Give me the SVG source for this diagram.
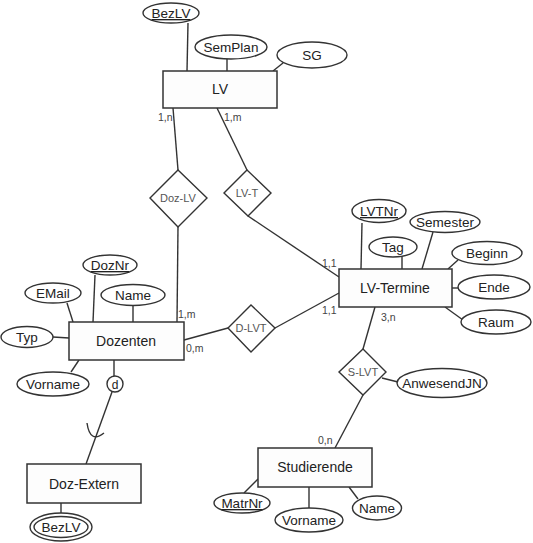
<svg xmlns="http://www.w3.org/2000/svg" width="533" height="543" viewBox="0 0 533 543">
<style>
.e{fill:#fdfdfd;stroke:#333;stroke-width:1.5}
.a{fill:#fff;stroke:#333;stroke-width:1.4}
.r{fill:#fff;stroke:#333;stroke-width:1.4}
.l{stroke:#333;stroke-width:1.4;fill:none}
text{font-family:"Liberation Sans",Arial,sans-serif;fill:#222;text-anchor:middle}
.t{font-size:14px}
.at{font-size:13.5px}
.rt{font-size:11px;fill:#555}
.c{font-size:10.5px;fill:#444;text-anchor:start}
.u{text-decoration:underline}
</style>
<g id="connectors">
<line class="l" x1="188" y1="23" x2="187" y2="71"/>
<line class="l" x1="227" y1="59" x2="227" y2="71"/>
<line class="l" x1="273" y1="71" x2="283" y2="63"/>
<line class="l" x1="173" y1="108" x2="178" y2="170"/>
<line class="l" x1="217" y1="108" x2="247" y2="170"/>
<line class="l" x1="178" y1="227" x2="177" y2="322"/>
<line class="l" x1="248" y1="216" x2="339" y2="277"/>
<line class="l" x1="184" y1="340" x2="228" y2="328"/>
<line class="l" x1="275" y1="328" x2="339" y2="293"/>
<line class="l" x1="95" y1="275" x2="93" y2="322"/>
<line class="l" x1="67" y1="303" x2="73" y2="322"/>
<line class="l" x1="133" y1="305" x2="133" y2="322"/>
<line class="l" x1="53" y1="337" x2="69" y2="338"/>
<line class="l" x1="79" y1="360" x2="71" y2="372"/>
<line class="l" x1="114" y1="360" x2="114" y2="376"/>
<line class="l" x1="112" y1="392" x2="86" y2="464"/>
<path class="l" d="M87,423 Q90,444 104,433"/>
<line class="l" x1="61" y1="503" x2="61" y2="513"/>
<line class="l" x1="362" y1="223" x2="361" y2="269"/>
<line class="l" x1="402" y1="257" x2="402" y2="269"/>
<line class="l" x1="433" y1="232" x2="422" y2="269"/>
<line class="l" x1="448" y1="269" x2="458" y2="260"/>
<line class="l" x1="452" y1="288" x2="458" y2="288"/>
<line class="l" x1="445" y1="307" x2="463" y2="320"/>
<line class="l" x1="375" y1="307" x2="363" y2="349"/>
<line class="l" x1="382" y1="378" x2="398" y2="382"/>
<line class="l" x1="363" y1="395" x2="335" y2="448"/>
<line class="l" x1="258" y1="479" x2="244" y2="493"/>
<line class="l" x1="309" y1="487" x2="309" y2="508"/>
<line class="l" x1="349" y1="487" x2="358" y2="499"/>
<text class="c" x="158" y="121">1,n</text>
<text class="c" x="224" y="121">1,m</text>
<text class="c" x="178" y="318">1,m</text>
<text class="c" x="186" y="352">0,m</text>
<text class="c" x="322" y="267">1,1</text>
<text class="c" x="322" y="314">1,1</text>
<text class="c" x="381" y="321">3,n</text>
<text class="c" x="318" y="444">0,n</text>
</g>
<g id="LV"><rect class="e" x="163" y="71" width="114" height="37"/><text class="t" x="220" y="94">LV</text></g>
<g id="LV-BezLV"><ellipse class="a" cx="171" cy="13" rx="28" ry="10"/><text class="at u" x="171" y="18">BezLV</text></g>
<g id="LV-SemPlan"><ellipse class="a" cx="231" cy="47" rx="36" ry="12"/><text class="at" x="231" y="52">SemPlan</text></g>
<g id="LV-SG"><ellipse class="a" cx="312" cy="55" rx="35" ry="13"/><text class="at" x="312" y="60">SG</text></g>
<g id="Doz-LV"><polygon class="r" points="178,170 207,198 178,227 150,198"/><text class="rt" x="178" y="202">Doz-LV</text></g>
<g id="LV-T"><polygon class="r" points="247,170 271,193 248,216 224,193"/><text class="rt" x="247" y="197">LV-T</text></g>
<g id="Dozenten"><rect class="e" x="69" y="322" width="115" height="38"/><text class="t" x="126" y="346">Dozenten</text></g>
<g id="Doz-DozNr"><ellipse class="a" cx="110" cy="265" rx="27" ry="10"/><text class="at u" x="110" y="270">DozNr</text></g>
<g id="Doz-EMail"><ellipse class="a" cx="53" cy="293" rx="28" ry="10"/><text class="at" x="53" y="298">EMail</text></g>
<g id="Doz-Name"><ellipse class="a" cx="133" cy="295" rx="32" ry="10.5"/><text class="at" x="133" y="300">Name</text></g>
<g id="Doz-Typ"><ellipse class="a" cx="27" cy="337" rx="26" ry="10.5"/><text class="at" x="27" y="342">Typ</text></g>
<g id="Doz-Vorname"><ellipse class="a" cx="53" cy="384" rx="36" ry="12"/><text class="at" x="53" y="389">Vorname</text></g>
<g id="d"><circle class="a" cx="115" cy="384" r="8"/><text class="at" x="115" y="388.5" style="font-size:12px">d</text></g>
<g id="Doz-Extern"><rect class="e" x="27" y="464" width="114" height="39"/><text class="t" x="84" y="489">Doz-Extern</text></g>
<g id="DozExt-BezLV"><ellipse class="a" cx="61" cy="527" rx="31" ry="14"/><ellipse class="a" cx="61" cy="527" rx="27" ry="10.5"/><text class="at" x="61" y="532">BezLV</text></g>
<g id="D-LVT"><polygon class="r" points="251,305 275,328 251,352 228,328"/><text class="rt" x="251" y="332">D-LVT</text></g>
<g id="LV-Termine"><rect class="e" x="339" y="269" width="113" height="38"/><text class="t" x="395" y="293">LV-Termine</text></g>
<g id="LVT-LVTNr"><ellipse class="a" cx="379" cy="211" rx="27" ry="11.5"/><text class="at u" x="379" y="216">LVTNr</text></g>
<g id="LVT-Tag"><ellipse class="a" cx="393" cy="247" rx="24" ry="10"/><text class="at" x="393" y="252">Tag</text></g>
<g id="LVT-Semester"><ellipse class="a" cx="445" cy="222" rx="35" ry="10.5"/><text class="at" x="445" y="227">Semester</text></g>
<g id="LVT-Beginn"><ellipse class="a" cx="487" cy="253" rx="35" ry="11.5"/><text class="at" x="487" y="258">Beginn</text></g>
<g id="LVT-Ende"><ellipse class="a" cx="494" cy="287" rx="36" ry="12"/><text class="at" x="494" y="292">Ende</text></g>
<g id="LVT-Raum"><ellipse class="a" cx="496" cy="322" rx="35" ry="12"/><text class="at" x="496" y="327">Raum</text></g>
<g id="S-LVT"><polygon class="r" points="363,349 386,372 363,395 339,372"/><text class="rt" x="363" y="376">S-LVT</text></g>
<g id="S-AnwesendJN"><ellipse class="a" cx="442" cy="383" rx="45" ry="14.5"/><text class="at" x="442" y="388">AnwesendJN</text></g>
<g id="Studierende"><rect class="e" x="258" y="448" width="114" height="39"/><text class="t" x="315" y="472">Studierende</text></g>
<g id="Stud-MatrNr"><ellipse class="a" cx="242" cy="503" rx="28" ry="10"/><text class="at u" x="242" y="508">MatrNr</text></g>
<g id="Stud-Vorname"><ellipse class="a" cx="309" cy="520" rx="34" ry="12"/><text class="at" x="309" y="525">Vorname</text></g>
<g id="Stud-Name"><ellipse class="a" cx="377" cy="508" rx="24.5" ry="12"/><text class="at" x="377" y="513">Name</text></g>
</svg>
